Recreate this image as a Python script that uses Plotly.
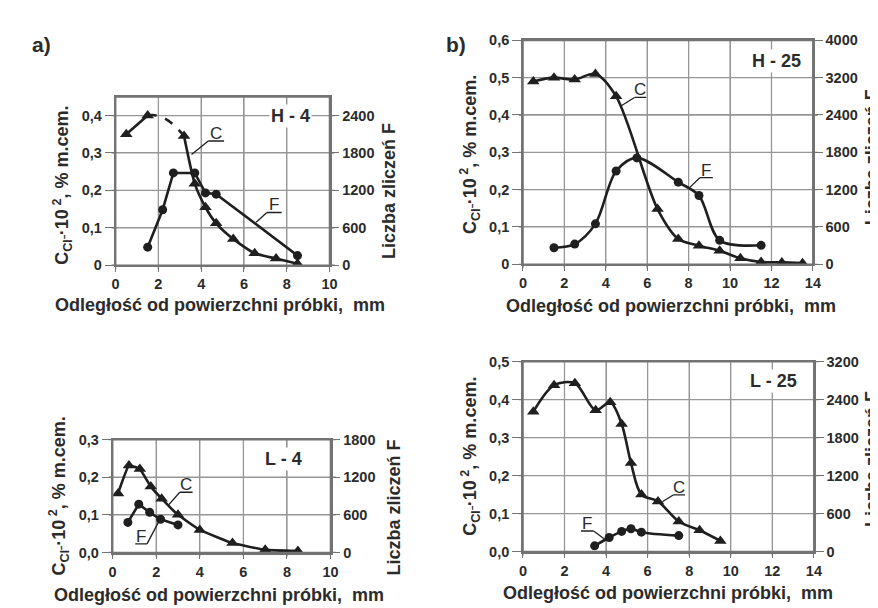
import plotly.graph_objects as go

W, H = 878, 608

# ---------------- data ----------------
# H-4
h4_c_x = [0.5, 1.5, 3.2, 3.7, 4.2, 4.7, 5.5, 6.5, 7.5, 8.5]
h4_c_y = [0.35, 0.40, 0.345, 0.218, 0.155, 0.112, 0.07, 0.032, 0.018, 0.004]
h4_f_x = [1.5, 2.2, 2.7, 3.7, 4.2, 4.7, 8.5]
h4_f_n = [290, 890, 1480, 1480, 1160, 1140, 155]
# H-25
h25_c_x = [0.5, 1.5, 2.5, 3.5, 4.5, 6.5, 7.5, 8.5, 9.5, 10.5, 11.5, 12.5, 13.5]
h25_c_y = [0.49, 0.50, 0.495, 0.51, 0.45, 0.148, 0.068, 0.05, 0.036, 0.016, 0.006, 0.005, 0.003]
h25_f_x = [1.5, 2.5, 3.5, 4.5, 5.5, 7.5, 8.5, 9.5, 11.5]
h25_f_n = [265, 325, 650, 1500, 1710, 1320, 1105, 385, 305]
# L-4
l4_c_x = [0.25, 0.75, 1.25, 1.75, 2.25, 3.0, 4.0, 5.5, 7.0, 8.5]
l4_c_y = [0.157, 0.231, 0.222, 0.175, 0.143, 0.10, 0.06, 0.025, 0.007, 0.004]
l4_f_x = [0.7, 1.2, 1.7, 2.2, 3.0]
l4_f_n = [480, 770, 640, 530, 440]
# L-25
l25_c_x = [0.5, 1.5, 2.5, 3.5, 4.2, 4.75, 5.2, 5.7, 6.5, 7.5, 8.5, 9.5]
l25_c_y = [0.368, 0.438, 0.443, 0.372, 0.393, 0.336, 0.233, 0.15, 0.132, 0.079, 0.056, 0.028]
l25_f_x = [3.45, 4.15, 4.75, 5.2, 5.7, 7.5]
l25_f_n = [90, 222, 318, 360, 306, 252]

# tick values / labels
x_ticks_10 = [0, 2, 4, 6, 8, 10]
x_ticks_14 = [0, 2, 4, 6, 8, 10, 12, 14]
h4_left_vals = [0, 0.1, 0.2, 0.3, 0.4]
h4_left_text = ["0", "0,1", "0,2", "0,3", "0,4"]
h25_left_vals = [0, 0.1, 0.2, 0.3, 0.4, 0.5, 0.6]
h25_left_text = ["0", "0,1", "0,2", "0,3", "0,4", "0,5", "0,6"]
l4_left_vals = [0, 0.1, 0.2, 0.3]
l4_left_text = ["0,0", "0,1", "0,2", "0,3"]
l25_left_vals = [0, 0.1, 0.2, 0.3, 0.4, 0.5]
l25_left_text = ["0,0", "0,1", "0,2", "0,3", "0,4", "0,5"]
right_ticks_text = ["0", "600", "1200", "1800", "2400", "3200", "4000"]

panel_names = ["H - 4", "H - 25", "L - 4", "L - 25"]
x_title = "Odległość od powierzchni próbki,  mm"
yl_title = "C<sub>Cl⁻</sub>·10<sup> 2</sup>, % m.cem."
yr_title = "Liczba zliczeń F"
F_SCALE = 6000  # right-axis counts per left-axis unit (0,1 <-> 600)

# ---------------- styling ----------------
FONT = "Liberation Sans, Arial, sans-serif"
TXT = "#2b2b2b"
LINE = "#1f1f1f"
GRID = "rgb(150,150,150)"
AX = "rgb(115,115,115)"

def px2x(px):
    return px / W

def py2y(py):
    return 1 - py / H

def bold(labels):
    return [f"<b>{t}</b>" for t in labels]

panels = [
    dict(box=(105, 322, 83, 256), xr=10, xt=x_ticks_10, yr=0.45,
         lv=h4_left_vals, lt=h4_left_text, lab=(8.15, 0.398),
         ylt=(51, 174), yrt=(382, 180), xtt=(211, 297)),
    dict(box=(518, 812, 25, 255), xr=14, xt=x_ticks_14, yr=0.6,
         lv=h25_left_vals, lt=h25_left_text, lab=(12.25, 0.545),
         ylt=(464, 142), yrt=(872, 145), xtt=(668, 298)),
    dict(box=(102, 323, 435, 551), xr=10, xt=x_ticks_10, yr=0.3,
         lv=l4_left_vals, lt=l4_left_text, lab=(7.85, 0.248),
         ylt=(47, 493), yrt=(387, 505), xtt=(210, 595)),
    dict(box=(518, 813, 355, 550), xr=14, xt=x_ticks_14, yr=0.5,
         lv=l25_left_vals, lt=l25_left_text, lab=(12.05, 0.449),
         ylt=(464, 452), yrt=(872, 455), xtt=(665, 593)),
]

fig = go.Figure()
layout = dict(
    width=W, height=H, margin=dict(l=0, r=0, t=0, b=0),
    paper_bgcolor="white", plot_bgcolor="white", showlegend=False,
    font=dict(family=FONT, size=14, color=TXT),
)
annotations = []
shapes = []

tickfont = dict(family=FONT, size=14.5, color=TXT)
titlefont = dict(family=FONT, size=18, color=TXT)
ytitlefont = dict(family=FONT, size=18, color=TXT)

for i, p in enumerate(panels):
    n = i + 1
    xa = "xaxis" if n == 1 else f"xaxis{n}"
    ya_l = 2 * n - 1
    ya_r = 2 * n
    yl = "yaxis" if ya_l == 1 else f"yaxis{ya_l}"
    yr = f"yaxis{ya_r}"
    xref = "x" if n == 1 else f"x{n}"
    yref_l = "y" if ya_l == 1 else f"y{ya_l}"
    yref_r = f"y{ya_r}"
    L, R, T, B = p["box"]
    nt = len(p["lv"])
    rvals = [v * F_SCALE for v in p["lv"]]

    layout[xa] = dict(domain=[px2x(L), px2x(R)], anchor=yref_l, range=[0, p["xr"]],
                      tickvals=p["xt"], ticktext=bold([str(t) for t in p["xt"]]),
                      showgrid=True, gridcolor=GRID, gridwidth=1,
                      showline=True, linecolor=AX, linewidth=1.5, mirror=True,
                      ticks="outside", ticklen=5, tickcolor=AX, tickfont=tickfont,
                      zeroline=False, fixedrange=True)
    layout[yl] = dict(domain=[py2y(B), py2y(T)], anchor=xref, range=[0, p["yr"]],
                      tickvals=p["lv"], ticktext=bold(p["lt"]), showgrid=True,
                      gridcolor=GRID, gridwidth=1, showline=True, linecolor=AX,
                      linewidth=1.5, mirror=True, ticks="outside", ticklen=9,
                      tickcolor=AX, tickfont=tickfont, zeroline=False, fixedrange=True)
    layout[yr] = dict(anchor=xref, overlaying=yref_l, side="right",
                      range=[0, p["yr"] * F_SCALE], tickvals=rvals,
                      ticktext=bold(right_ticks_text[:nt]), showgrid=False,
                      showline=True, linecolor=AX, linewidth=1.5, ticks="outside",
                      ticklen=8, tickcolor=AX, tickfont=tickfont,
                      zeroline=False, fixedrange=True)

    # explicit grid (below the curves), frame and tick marks, from the tick lists
    for t in p["xt"][1:-1]:
        shapes.append(dict(type="line", layer="below", xref=xref, yref=f"{yref_l} domain",
                           x0=t, x1=t, y0=0, y1=1, line=dict(color=GRID, width=1.3)))
    for v in p["lv"][1:]:
        if v < p["yr"]:
            shapes.append(dict(type="line", layer="below", xref=f"{xref} domain", yref=yref_l,
                               x0=0, x1=1, y0=v, y1=v, line=dict(color=GRID, width=1.3)))
    for t in p["xt"]:
        shapes.append(dict(type="line", layer="above", xref=xref, yref=f"{yref_l} domain",
                           x0=t, x1=t, ysizemode="pixel", yanchor=0, y0=0, y1=-4,
                           line=dict(color=AX, width=1.3)))
    for v in p["lv"]:
        shapes.append(dict(type="line", layer="above", xref=f"{xref} domain", yref=yref_l,
                           xsizemode="pixel", xanchor=0, x0=0, x1=-4, y0=v, y1=v,
                           line=dict(color=AX, width=1.3)))
        shapes.append(dict(type="line", layer="above", xref=f"{xref} domain", yref=yref_l,
                           xsizemode="pixel", xanchor=1, x0=0, x1=5, y0=v, y1=v,
                           line=dict(color=AX, width=1.3)))
    shapes.append(dict(type="rect", layer="above", xref=f"{xref} domain",
                       yref=f"{yref_l} domain", x0=0, x1=1, y0=0, y1=1,
                       line=dict(color=AX, width=1.7)))

    # axis titles
    annotations.append(dict(text=f"<b>{x_title}</b>", xref="paper", yref="paper",
                            x=px2x(p["xtt"][0]), y=py2y(p["xtt"][1]), showarrow=False,
                            font=titlefont, xanchor="center", yanchor="middle"))
    annotations.append(dict(text=f"<b>{yl_title}</b>", xref="paper", yref="paper",
                            x=px2x(p["ylt"][0]), y=py2y(p["ylt"][1]), showarrow=False,
                            textangle=-90, font=ytitlefont, xanchor="center", yanchor="middle"))
    annotations.append(dict(text=f"<b>{yr_title}</b>", xref="paper", yref="paper",
                            x=px2x(p["yrt"][0]), y=py2y(p["yrt"][1]), showarrow=False,
                            textangle=-90, font=ytitlefont, xanchor="center", yanchor="middle"))
    # panel label
    annotations.append(dict(text=f"<b>{panel_names[i]}</b>", xref=xref, yref=yref_l,
                            x=p["lab"][0], y=p["lab"][1], showarrow=False,
                            font=dict(family=FONT, size=18, color=TXT),
                            bgcolor="white", borderpad=1, xanchor="center", yanchor="middle"))
    p["refs"] = (xref, yref_l, yref_r)

mk_c = dict(symbol="triangle-up", size=11, color=LINE)
mk_f = dict(symbol="circle", size=9, color=LINE)

def add(x, y, yref, shape, smoothing, marker, xref="x"):
    fig.add_trace(go.Scatter(x=x, y=y, mode="lines+markers", xaxis=xref, yaxis=yref,
                             line=dict(color=LINE, width=2.6, shape=shape, smoothing=smoothing),
                             marker=marker, hoverinfo="skip", cliponaxis=False))

# H-4 (C has a dashed part between the 2nd and 3rd point)
xr_, yl_, yr_ = panels[0]["refs"]
add(h4_c_x[:2], h4_c_y[:2], yl_, "linear", 0, mk_c, xr_)
add(h4_c_x[2:], h4_c_y[2:], yl_, "spline", 0.6, mk_c, xr_)
x0, y0, x1, y1 = h4_c_x[1], h4_c_y[1], h4_c_x[2], h4_c_y[2]
qx, qy = x0 + 0.47 * (x1 - x0), y0 + 0.01
shapes.append(dict(type="path", xref=xr_, yref=yl_,
                   path=f"M {x0},{y0} Q {qx},{qy} {x1},{y1}",
                   line=dict(color=LINE, width=2.6, dash="dash")))
add(h4_f_x, h4_f_n, yr_, "linear", 0, mk_f, xr_)

# H-25
xr_, yl_, yr_ = panels[1]["refs"]
add(h25_c_x, h25_c_y, yl_, "spline", 0.9, mk_c, xr_)
add(h25_f_x, h25_f_n, yr_, "spline", 0.9, mk_f, xr_)

# L-4
xr_, yl_, yr_ = panels[2]["refs"]
add(l4_c_x, l4_c_y, yl_, "spline", 0.3, mk_c, xr_)
add(l4_f_x, l4_f_n, yr_, "linear", 0, mk_f, xr_)

# L-25
xr_, yl_, yr_ = panels[3]["refs"]
add(l25_c_x, l25_c_y, yl_, "spline", 0.9, mk_c, xr_)
add(l25_f_x, l25_f_n, yr_, "spline", 0.9, mk_f, xr_)

# series labels "C" / "F": underline + leader line to the curve
series_labels = [
    (0, "C", 4.33, 5.07, 0.332, 3.55, 0.296, False),
    (0, "F", 7.07, 7.76, 0.141, 6.57, 0.115, False),
    (1, "C", 5.39, 5.95, 0.447, 4.73, 0.424, False),
    (1, "F", 8.54, 9.17, 0.232, 8.06, 0.206, False),
    (2, "C", 3.08, 3.67, 0.160, 2.53, 0.124, False),
    (2, "F", 1.04, 1.58, 0.023, 2.17, 0.088, True),
    (3, "C", 7.23, 7.80, 0.149, 6.71, 0.131, False),
    (3, "F", 2.79, 3.40, 0.054, 3.97, 0.031, True),
]
for pi, letter, ux0, ux1, uy, lx, ly, right in series_labels:
    xr_, yl_, _ = panels[pi]["refs"]
    shapes.append(dict(type="line", xref=xr_, yref=yl_, x0=ux0, x1=ux1, y0=uy, y1=uy,
                       line=dict(color=LINE, width=1.3)))
    sx = ux1 if right else ux0
    shapes.append(dict(type="line", xref=xr_, yref=yl_, x0=sx, x1=lx, y0=uy, y1=ly,
                       line=dict(color=LINE, width=1.3)))
    annotations.append(dict(text=letter, xref=xr_, yref=yl_, x=(ux0 + ux1) / 2, y=uy,
                            showarrow=False, xanchor="center", yanchor="bottom",
                            yshift=-3, borderpad=0,
                            font=dict(family=FONT, size=17, color=TXT)))

# figure part labels
annotations.append(dict(text="<b>a)</b>", xref="paper", yref="paper", x=px2x(18), y=py2y(15),
                        showarrow=False, font=dict(family=FONT, size=21, color=TXT)))
annotations.append(dict(text="<b>b)</b>", xref="paper", yref="paper", x=px2x(450), y=py2y(15),
                        showarrow=False, font=dict(family=FONT, size=21, color=TXT)))

layout["annotations"] = annotations
layout["shapes"] = shapes
fig.update_layout(**layout)
fig.write_html("out.html")
